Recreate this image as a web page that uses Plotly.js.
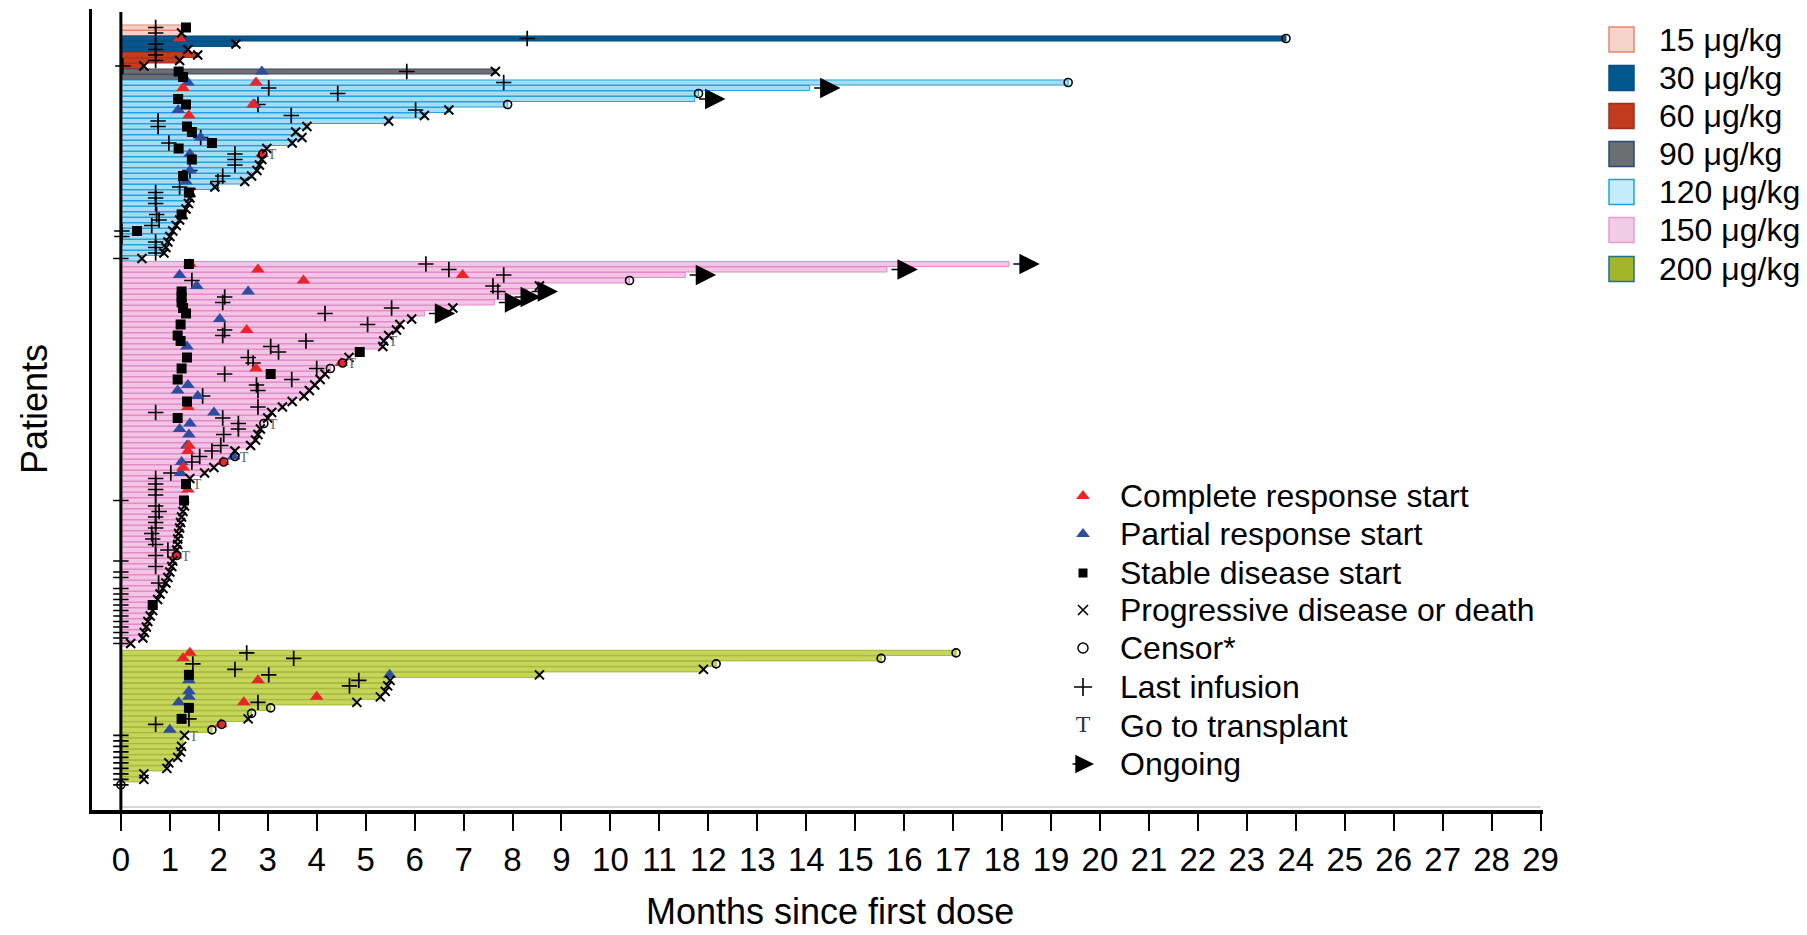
<!DOCTYPE html>
<html><head><meta charset="utf-8">
<script src="https://cdn.plot.ly/plotly-3.0.1.min.js"></script>
<style>html,body{margin:0;padding:0;background:#fff}</style>
</head><body><div id="chart" style="width:1807px;height:935px"></div>
<script>
// ---------------- DATA (months since first dose) ----------------
const doseLabels = ['15 μg/kg','30 μg/kg','60 μg/kg','90 μg/kg','120 μg/kg','150 μg/kg','200 μg/kg'];
const legendLabels = ['Complete response start','Partial response start','Stable disease start','Progressive disease or death','Censor*','Last infusion','Go to transplant','Ongoing'];
const xTicks = [0,1,2,3,4,5,6,7,8,9,10,11,12,13,14,15,16,17,18,19,20,21,22,23,24,25,26,27,28,29];

// end codes: X = progressive disease/death, O = censor, A = ongoing, '' = none
const g15_dur = [1.3, 1.24];
const g15_end = ['', 'X'];
const g15_inf = [0.71, 0.71];
const g15_sd = [[0,1.33]];
const g15_pr = [];
const g15_cr = [];
const g15_tx = [];

const g30_dur = [23.8, 2.35, 1.37];
const g30_end = ['O','X','X'];
const g30_inf = [8.3, 0.71, 0.71];
const g30_sd = [];
const g30_pr = [];
const g30_cr = [[0,1.2]];
const g30_tx = [];

const g60_dur = [1.57, 1.2, 0.47];
const g60_end = ['X','X','X'];
const g60_inf = [0.71, 0.71, 0.04];
const g60_sd = [];
const g60_pr = [];
const g60_cr = [];
const g60_tx = [];

const g90_dur = [7.65, 1.3];
const g90_end = ['X',''];
const g90_inf = [5.84, null];
const g90_sd = [[0,1.18],[1,1.27]];
const g90_pr = [[0,2.88]];
const g90_cr = [];
const g90_tx = [];

const g120_dur = [19.35,14.07,11.8,11.72,7.9,6.7,6.2,5.47,3.8,3.57,3.7,3.5,2.98,2.9,2.88,2.83,2.78,2.67,2.53,1.92,1.43,1.41,1.38,1.33,1.27,1.2,1.13,1.06,1.0,0.96,0.92,0.88,0.43];
const g120_end = ['O','A','O','A','O','X','X','X','X','X','X','X','X','O','X','X','X','X','X','X','X','X','X','X','X','X','X','X','X','X','X','X','X'];
const g120_inf = [7.82,3.02,4.43,null,2.8,6.02,3.48,0.76,0.76,null,1.63,0.98,null,2.33,2.33,2.33,1.41,2.08,1.98,1.2,0.71,0.71,0.71,null,0.73,0.78,0.63,0.02,0.02,0.71,0.71,0.71,0];
const g120_sd = [[3,1.17],[4,1.33],[8,1.35],[9,1.45],[11,1.86],[12,1.18],[14,1.45],[17,1.27],[20,1.39],[24,1.24],[27,0.33]];
const g120_pr = [[0,1.37],[4,2.73],[5,1.17],[10,1.63],[13,1.41],[16,1.41],[18,1.33]];
const g120_cr = [[0,2.76],[1,1.27],[4,2.7],[6,1.39],[13,2.88]];
const g120_tx = [13];

const g150_dur = [18.14,15.65,11.53,10.39,8.55,8.3,7.95,7.63,6.78,6.2,
  5.94,5.7,5.63,5.47,5.37,5.35,4.9,4.66,4.53,4.28,
  4.17,4.07,3.96,3.85,3.74,3.5,3.3,3.08,3.0,2.92,
  2.85,2.8,2.75,2.65,2.33,2.33,2.1,1.9,1.71,1.41,
  1.37,1.37,1.35,1.31,1.3,1.27,1.24,1.22,1.2,1.18,
  1.16,1.16,1.14,1.14,1.06,1.04,1.0,0.96,0.92,0.86,
  0.8,0.75,0.68,0.65,0.6,0.55,0.52,0.48,0.45,0.2];
const g150_end = ['A','A','A','O','X','A','A','A','X','A',
  'X','X','X','X','X','X','','X','O','O',
  'X','X','X','X','X','X','X','X','X','O',
  'X','X','X','X','X','O','O','X','X','X',
  '','','','','X','X','X','X','X','X',
  'X','X','X','O','X','X','X','X','X','X',
  'X','X','','X','X','X','X','X','X','X'];
const g150_inf = [6.23,6.7,7.82,1.45,7.6,7.7,2.12,2.08,5.53,4.17,
  null,5.04,2.12,2.08,3.78,3.06,3.22,2.6,2.7,4.0,
  2.12,3.49,2.77,2.8,1.67,null,2.8,0.71,2.08,2.4,
  2.4,2.1,null,2.04,1.86,1.61,1.45,null,1.02,0.71,
  0.71,0.71,0.71,0,0.71,0.78,0.71,0.71,0.71,0.63,
  0.65,0.71,0.96,0.71,0,0.71,0,0,0.77,0,
  0,0,0,0,0,0,0,0,0,0];
const g150_sd = [[0,1.39],[5,1.24],[6,1.24],[7,1.24],[8,1.27],[9,1.33],[11,1.22],[13,1.16],[14,1.22],[16,4.88],[17,1.35],[19,1.24],[20,3.06],[21,1.16],[25,1.35],[28,1.16],[40,1.33],[43,1.29],[62,0.65]];
const g150_pr = [[2,1.2],[4,1.55],[5,2.6],[10,2.02],[15,1.35],[22,1.37],[23,1.16],[24,1.57],[27,1.9],[29,1.41],[30,1.2],[31,1.39],[33,1.35],[35,2.3],[36,1.24],[38,1.22]];
const g150_cr = [[0,1.41],[1,2.8],[2,6.98],[3,3.73],[12,2.57],[18,4.5],[19,2.76],[26,1.37],[33,1.39],[34,1.37],[36,2.08],[37,1.27],[41,1.37],[53,1.12]];
const g150_tx = [14,18,29,35,40,53];

const g200_dur = [17.06,15.53,12.16,11.9,8.55,5.5,5.45,5.4,5.3,4.82,3.06,2.67,2.6,2.06,1.86,1.3,1.27,1.24,1.22,1.16,0.98,0.94,0.47,0.47,0];
const g200_end = ['O','O','O','X','X','X','X','X','X','X','O','O','X','O','O','X','','X','X','X','X','X','X','X','O'];
const g200_inf = [2.57,3.53,1.47,2.33,3.02,4.86,4.67,null,null,2.8,null,null,1.39,0.71,null,0,0,0,0,0,0,0,0,0,0];
const g200_sd = [[4,1.39],[10,1.39],[12,1.24]];
const g200_pr = [[4,5.49],[5,1.39],[7,1.39],[8,1.39],[9,1.18],[14,1.0]];
const g200_cr = [[0,1.41],[1,1.27],[5,2.8],[8,4.0],[9,2.51],[13,2.04]];
const g200_tx = [15];

// ---------------- STYLE ----------------
const fillColors = ['#f6d0c6','#04588f','#c23c1e','#6d6e71','#a6ddf4','#f3c4e5','#c6d65a'];
const lineColors = ['#e9856f','#0b4d7c','#a9321a','#3d4f63','#25a1dc','#e08bc8','#a3b538'];
const swatchLines = ['#e9856f','#0b4d7c','#9c2f18','#1f4e79','#25a1dc','#e59ccf','#1f6f8b'];
const swatchFills = ['#f6d3cb','#00568f','#c23b1e','#6d6e71','#c5ecfb','#f2cce6','#a3b52a'];
const FONT = 'Liberation Sans, Arial, Helvetica, sans-serif';
const NARROW = 'Liberation Sans Narrow, Arial Narrow, Liberation Sans, Arial, sans-serif';
const CR_COLOR = '#e8262a', PR_COLOR = '#2d4d9f';

const G = [
  {dur:g15_dur, end:g15_end, inf:g15_inf, sd:g15_sd, pr:g15_pr, cr:g15_cr, tx:g15_tx},
  {dur:g30_dur, end:g30_end, inf:g30_inf, sd:g30_sd, pr:g30_pr, cr:g30_cr, tx:g30_tx},
  {dur:g60_dur, end:g60_end, inf:g60_inf, sd:g60_sd, pr:g60_pr, cr:g60_cr, tx:g60_tx},
  {dur:g90_dur, end:g90_end, inf:g90_inf, sd:g90_sd, pr:g90_pr, cr:g90_cr, tx:g90_tx},
  {dur:g120_dur, end:g120_end, inf:g120_inf, sd:g120_sd, pr:g120_pr, cr:g120_cr, tx:g120_tx},
  {dur:g150_dur, end:g150_end, inf:g150_inf, sd:g150_sd, pr:g150_pr, cr:g150_cr, tx:g150_tx},
  {dur:g200_dur, end:g200_end, inf:g200_inf, sd:g200_sd, pr:g200_pr, cr:g200_cr, tx:g200_tx}
];
const gapBefore = [0,0,0,0,0,0,0.7];

// row positions (patient index from top)
let start = 0; const pos = [];
G.forEach((g,gi)=>{ start += gapBefore[gi]; pos.push(g.dur.map((_,i)=>start+i)); start += g.dur.length; });

const W = 1807, H = 935;
const PL = 92, PR_ = 1543, PT = 9, PB = 810;
const rowTopPx = 27.5, pitch = 5.5;

const traces = [];
G.forEach((g,gi)=>traces.push({type:'bar', orientation:'h', x:g.dur, y:pos[gi], width:0.92,
  marker:{color:fillColors[gi], line:{color:lineColors[gi], width:1}}, hoverinfo:'skip', showlegend:false}));

function ev(key){ const xs=[],ys=[]; G.forEach((g,gi)=>g[key].forEach(([r,t])=>{xs.push(t);ys.push(pos[gi][r]);})); return [xs,ys]; }
function ends(code){ const xs=[],ys=[]; G.forEach((g,gi)=>g.end.forEach((e,i)=>{ if(e===code){xs.push(g.dur[i]);ys.push(pos[gi][i]);} })); return [xs,ys]; }
function infs(){ const xs=[],ys=[]; G.forEach((g,gi)=>g.inf.forEach((v,i)=>{ if(v!==null){xs.push(v);ys.push(pos[gi][i]);} })); return [xs,ys]; }
function txs(){ const xs=[],ys=[]; G.forEach((g,gi)=>g.tx.forEach(r=>{xs.push(g.dur[r]+0.1);ys.push(pos[gi][r]+0.3);})); return [xs,ys]; }

const sc = (d, marker, extra) => Object.assign({type:'scatter', mode:'markers', x:d[0], y:d[1], marker, hoverinfo:'skip', showlegend:false, cliponaxis:false}, extra||{});

const [ix,iy] = infs();
traces.push(sc([ix,iy], {symbol:'cross-thin', size:11, line:{width:1.7, color:'#000'}}));
traces.push(sc(ev('pr'), {symbol:'triangle-up', size:12, color:PR_COLOR}));
traces.push(sc(ev('cr'), {symbol:'triangle-up', size:12, color:CR_COLOR}));
traces.push(sc(ev('sd'), {symbol:'square', size:10, color:'#000'}));
traces.push(sc(ends('X'), {symbol:'x-thin', size:9, line:{width:2, color:'#000'}}));
traces.push(sc(ends('O'), {symbol:'circle-open', size:8, color:'#000', line:{width:1.6, color:'#000'}}));
const tt = txs();
traces.push({type:'scatter', mode:'text', x:tt[0], y:tt[1], text:tt[0].map(()=> 'T'), textposition:'middle right',
  textfont:{family:'Liberation Serif, DejaVu Serif, serif', size:14, color:'#666'}, hoverinfo:'skip', showlegend:false, cliponaxis:false});

// ---------------- LEGEND (pixel overlay axes x2/y2) ----------------
const legX = 1083, legTextX = 1118;
const legY = [496, 534, 573, 610, 648, 687, 726, 764];
const legTrace = (y, marker) => ({type:'scatter', mode:'markers', xaxis:'x2', yaxis:'y2', x:[legX], y:[y], marker, hoverinfo:'skip', showlegend:false});
traces.push(legTrace(legY[0], {symbol:'triangle-up', size:12, color:CR_COLOR}));
traces.push(legTrace(legY[1], {symbol:'triangle-up', size:12, color:PR_COLOR}));
traces.push(legTrace(legY[2], {symbol:'square', size:9, color:'#000'}));
traces.push(legTrace(legY[3], {symbol:'x-thin', size:10, color:'#000', line:{width:1.6,color:'#000'}}));
traces.push(legTrace(legY[4], {symbol:'circle-open', size:10, color:'#000', line:{width:1.5,color:'#000'}}));
traces.push(legTrace(legY[5], {symbol:'cross-thin', size:13, color:'#000', line:{width:1.6,color:'#000'}}));
traces.push({type:'scatter', mode:'text', xaxis:'x2', yaxis:'y2', x:[legX], y:[legY[6]], text:['T'], textfont:{family:'Liberation Serif, DejaVu Serif, serif', size:24, color:'#333'}, hoverinfo:'skip', showlegend:false});

const annotations = [];
// ongoing arrows in plot
G.forEach((g,gi)=>g.end.forEach((e,i)=>{ if(e==='A'){
  annotations.push({xref:'x', yref:'y', axref:'x', ayref:'y', x:g.dur[i]+0.63, y:pos[gi][i], ax:g.dur[i]+0.06, ay:pos[gi][i],
    text:'', showarrow:true, arrowhead:2, arrowsize:2.4, arrowwidth:1.7, arrowcolor:'#000', standoff:0, startstandoff:0});
}}));
annotations.push({xref:'x2', yref:'y2', axref:'x2', ayref:'y2', x:1094, y:legY[7], ax:1071, ay:legY[7], text:'', showarrow:true,
  arrowhead:2, arrowsize:2.2, arrowwidth:1.7, arrowcolor:'#000', standoff:0, startstandoff:0});
legendLabels.forEach((t,i)=>annotations.push({xref:'x2', yref:'y2', x:legTextX, y:legY[i], text:t, showarrow:false, xanchor:'left', yanchor:'middle', font:{family:FONT, size:32, color:'#000'}}));

// dose legend
const doseY = [39.5, 78, 116, 154, 192, 230, 269];
const shapes = [];
doseLabels.forEach((t,i)=>{
  shapes.push({type:'rect', xref:'x2', yref:'y2', x0:1609, x1:1634, y0:doseY[i]-12.5, y1:doseY[i]+12.5, fillcolor:swatchFills[i], line:{color:swatchLines[i], width:1.5}});
  annotations.push({xref:'x2', yref:'y2', x:1657, y:doseY[i], text:t, showarrow:false, xanchor:'left', yanchor:'middle', font:{family:FONT, size:32, color:'#000'}});
});

// axis titles
annotations.push({xref:'x2', yref:'y2', x:830, y:911, text:'Months since first dose', showarrow:false, xanchor:'center', yanchor:'middle', font:{family:FONT, size:36, color:'#000'}});
annotations.push({xref:'x2', yref:'y2', x:34, y:409, text:'Patients', textangle:-90, showarrow:false, xanchor:'center', yanchor:'middle', font:{family:FONT, size:36, color:'#000'}});

// inner x=0 line and thin gray baseline
shapes.push({type:'line', xref:'x', yref:'paper', x0:0, x1:0, y0:(H-PB)/H, y1:(H-12)/H, line:{color:'#000', width:3}, layer:'above'});
shapes.push({type:'line', xref:'x', yref:'paper', x0:0, x1:29, y0:(H-PB+3)/H, y1:(H-PB+3)/H, line:{color:'#b0b0b0', width:1}, layer:'below'});

const yBottom = (PB - rowTopPx)/pitch, yTop = (PT - rowTopPx)/pitch;
const xLeft = -0.59, xRight = 29.05;

const layout = {
  width:W, height:H, margin:{l:0,r:0,t:0,b:0}, paper_bgcolor:'#fff', plot_bgcolor:'rgba(0,0,0,0)',
  barmode:'overlay', showlegend:false, bargap:0,
  xaxis:{domain:[PL/W, PR_/W], range:[xLeft, xRight], tickvals:xTicks, ticktext:xTicks.map(String), ticks:'outside', ticklen:17, tickwidth:2, tickcolor:'#000',
    showline:true, linewidth:4, linecolor:'#000', showgrid:false, zeroline:false, tickfont:{family:NARROW, size:33, color:'#000'}, anchor:'y', fixedrange:true},
  yaxis:{domain:[(H-PB)/H, (H-PT)/H], range:[yBottom, yTop], showline:true, linewidth:3, linecolor:'#000', showgrid:false, zeroline:false,
    showticklabels:false, ticks:'', anchor:'x', fixedrange:true},
  xaxis2:{domain:[0,1], range:[0,W], visible:false, anchor:'y2', fixedrange:true},
  yaxis2:{domain:[0,1], range:[H,0], visible:false, anchor:'x2', fixedrange:true},
  annotations, shapes, font:{family:FONT, color:'#000'}
};
Plotly.newPlot('chart', traces, layout, {displayModeBar:false, staticPlot:true});
</script>
</body></html>
